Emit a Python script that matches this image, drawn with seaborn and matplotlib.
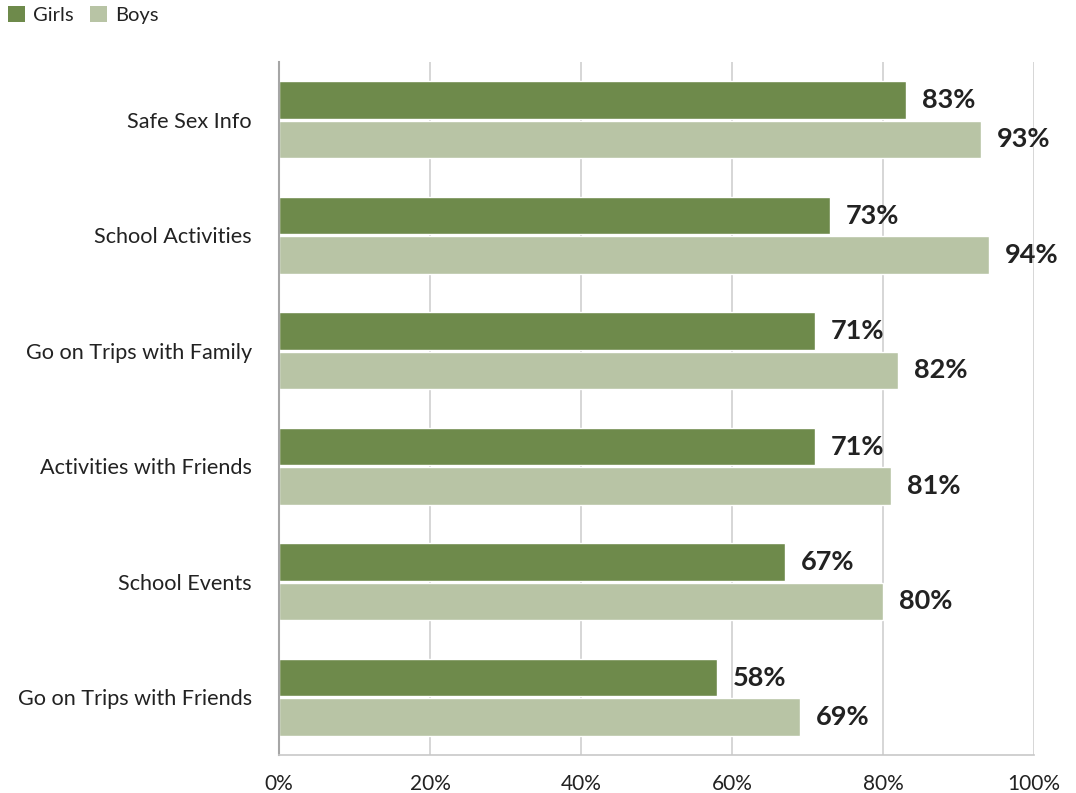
import matplotlib
matplotlib.use("Agg")
import matplotlib.pyplot as plt
import seaborn as sns
import pandas as pd
from matplotlib.patches import Patch

categories = ["Safe Sex Info", "School Activities", "Go on Trips with Family",
              "Activities with Friends", "School Events", "Go on Trips with Friends"]
girls = [83, 73, 71, 71, 67, 58]
boys = [93, 94, 82, 81, 80, 69]
series = ["Girls", "Boys"]
colors = {"Girls": "#6e8a4b", "Boys": "#b8c4a5"}
x_ticks = [0, 20, 40, 60, 80, 100]

df = pd.DataFrame({
    "category": categories * 2,
    "value": girls + boys,
    "group": ["Girls"] * len(categories) + ["Boys"] * len(categories),
})

sns.set_style("white")
plt.rcParams["font.family"] = ["Lato", "DejaVu Sans"]

fig = plt.figure(figsize=(10.76, 7.93), dpi=100)
ax = fig.add_axes([0.2593, 0.0479, 0.7017, 0.8739])

sns.barplot(data=df, y="category", x="value", hue="group", order=categories,
            hue_order=series, palette=colors, orient="h", width=0.68, gap=0.05,
            saturation=1, ax=ax, legend=False, errorbar=None)

ax.set_xlim(0, 100)
ax.set_ylim(len(categories) - 0.5, -0.5)
ax.set_xticks(x_ticks)
ax.set_xticklabels([f"{t}%" for t in x_ticks], fontsize=15, color="#222222")
ax.set_xlabel("")
ax.set_ylabel("")
ax.tick_params(axis="x", length=0, pad=14)
ax.tick_params(axis="y", direction="in", length=13, width=2, color="#b0b0b0",
               pad=19.5, labelsize=15.6, labelcolor="#222222")
ax.xaxis.grid(True, color="#d0d0d0", linewidth=1.2)
ax.set_axisbelow(True)

for side in ["top", "right"]:
    ax.spines[side].set_visible(False)
ax.spines["left"].set_color("#a6a6a6")
ax.spines["left"].set_linewidth(1.5)
ax.spines["bottom"].set_color("#c8c8c8")
ax.spines["bottom"].set_linewidth(1.2)

for container, vals in zip(ax.containers, [girls, boys]):
    ax.bar_label(container, labels=[f"{v}%" for v in vals], padding=11.5,
                 fontsize=19.5, fontweight="bold", color="#222222")

handles = [Patch(facecolor=colors[s], edgecolor="none", label=s) for s in series]
fig.legend(handles=handles, loc="upper left", bbox_to_anchor=(8 / 1076, 1 - 6 / 793),
           ncol=2, frameon=False, fontsize=14.5, handlelength=0.85, handleheight=0.85,
           handletextpad=0.4, columnspacing=0.8, labelcolor="#222222",
           borderpad=0, borderaxespad=0)

fig.savefig("out.png", dpi=100)
